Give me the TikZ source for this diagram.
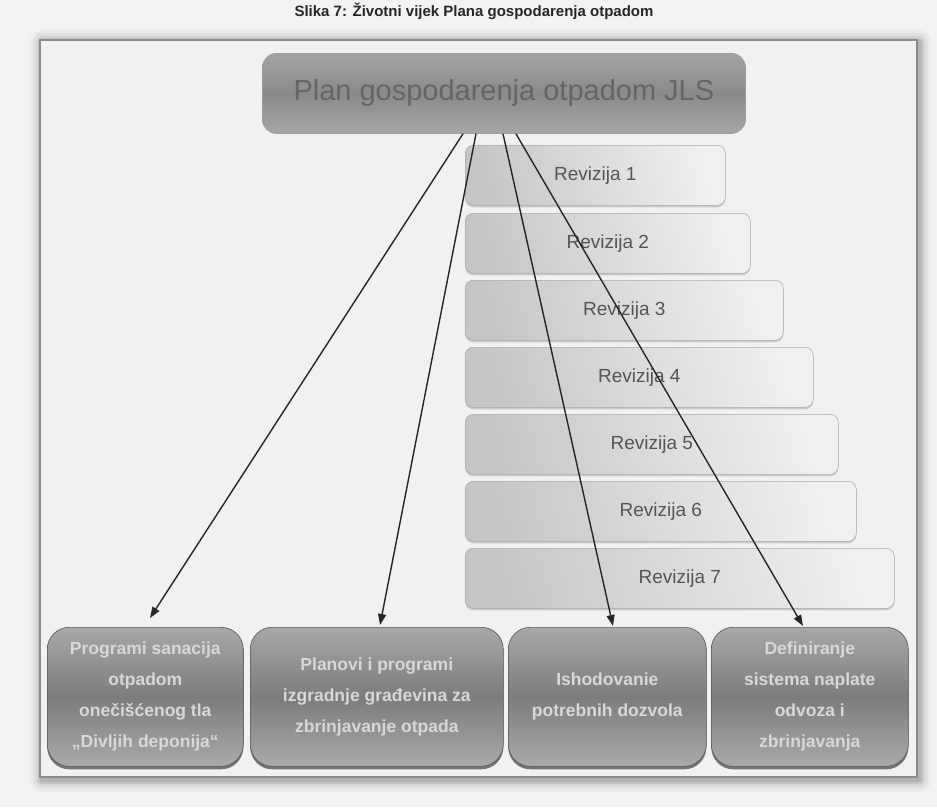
\documentclass[tikz,border=0pt]{standalone}
\usepackage{fontspec}
\setmainfont{Liberation Sans}
\usetikzlibrary{shadows,arrows.meta}
\definecolor{pagebg}{HTML}{F3F3F3}
\definecolor{framebg}{HTML}{F1F1F1}
\definecolor{framedraw}{HTML}{8C8C8C}
\definecolor{darktop}{HTML}{A8A8A8}
\definecolor{darkmid}{HTML}{7C7C7C}
\definecolor{darkbot}{HTML}{A0A0A0}
\definecolor{toptop}{HTML}{A4A4A4}
\definecolor{topmid}{HTML}{8A8A8A}
\definecolor{topbot}{HTML}{A6A6A6}
\definecolor{toptxt}{HTML}{656565}
\definecolor{revdark}{HTML}{C6C6C6}
\definecolor{revlight}{HTML}{F0F0F0}
\definecolor{revtxt}{HTML}{555555}
\definecolor{bottxt}{HTML}{D8D8D8}
\definecolor{arrcol}{HTML}{262626}
\tikzset{
  topbox/.style={draw=framedraw!85, line width=0.8pt, rounded corners=14pt,
    top color=toptop, bottom color=topbot, middle color=topmid,
    anchor=north west, inner sep=0pt, text=toptxt,
    font=\fontsize{29}{31}\selectfont},
  revbox/.style={draw=revdark!85!black, line width=0.5pt, rounded corners=8pt,
    left color=revdark, right color=revlight, shading angle=105,
    anchor=north west, inner sep=0pt, minimum height=60pt, text=revtxt,
    font=\fontsize{19}{21}\selectfont,
    drop shadow={shadow xshift=0pt, shadow yshift=-2pt, fill=black!35, opacity=.5}},
  botbox/.style={draw=darkmid!70!black, line width=0.6pt, rounded corners=22pt,
    top color=darktop, bottom color=darkbot!90, middle color=darkmid,
    anchor=north west, inner sep=0pt, minimum height=139pt, text=bottxt,
    align=center, font=\bfseries\fontsize{17.5}{31}\selectfont,
    drop shadow={shadow xshift=0pt, shadow yshift=-3pt, fill=black!75, opacity=.7}},
  arr/.style={draw=arrcol, line width=1.4pt, -{Triangle[length=11pt,width=8pt]}}
}
\begin{document}
\begin{tikzpicture}[x=1pt,y=-1pt]
\useasboundingbox (0,0) rectangle (937,807);
\clip (0,0) rectangle (937,807);
\fill[pagebg] (0,0) rectangle (937,807);
% caption
\node[anchor=base, font=\bfseries\fontsize{15}{17}\selectfont, text=black!85] (cap) at (474,16) {Slika 7: Životni vijek Plana gospodarenja otpadom};
% frame shadow
\foreach \d/\o in {12/0.03,9/0.04,6/0.05,4/0.07,2/0.09}{
  \fill[black, opacity=\o, rounded corners=\d pt] (40-\d+2,40-\d+2) rectangle (917+\d+2,777+\d+3);
}
\draw[framedraw, line width=1.6pt, fill=framebg] (40,40) rectangle (917,777);
% top box
\node[topbox, minimum width=483pt, minimum height=80pt] (top) at (262,53) {Plan gospodarenja otpadom JLS};
% revisions
\node[revbox, minimum width=260pt] (r1) at (465,145) {Revizija 1};
\node[revbox, minimum width=285pt] (r2) at (465,213) {Revizija 2};
\node[revbox, minimum width=318pt] (r3) at (465,280) {Revizija 3};
\node[revbox, minimum width=348pt] (r4) at (465,347) {Revizija 4};
\node[revbox, minimum width=373pt] (r5) at (465,414) {Revizija 5};
\node[revbox, minimum width=391pt] (r6) at (465,481) {Revizija 6};
\node[revbox, minimum width=429pt] (r7) at (465,548) {Revizija 7};
% bottom boxes
\node[botbox, minimum width=196pt] (b1) at (47,627) {Programi sanacija\\otpadom\\onečišćenog tla\\„Divljih deponija“};
\node[botbox, minimum width=253pt] (b2) at (250,627) {Planovi i programi\\izgradnje građevina za\\zbrinjavanje otpada};
\node[botbox, minimum width=198pt] (b3) at (508,627) {Ishodovanie\\potrebnih dozvola};
\node[botbox, minimum width=197pt] (b4) at (711,627) {Definiranje\\sistema naplate\\odvoza i\\zbrinjavanja};
% connectors
\coordinate (s1) at (463,133);
\coordinate (s2) at (476,133);
\coordinate (s3) at (503,133);
\coordinate (s4) at (516,133);
\coordinate (e1) at (150,618);
\coordinate (e2) at (380,625);
\coordinate (e3) at (613,626);
\coordinate (e4) at (803,626);
\draw[arr] (top.south -| s1) -- (e1);
\draw[arr] (top.south -| s2) -- (e2);
\draw[arr] (top.south -| s3) -- (e3);
\draw[arr] (top.south -| s4) -- (e4);
\end{tikzpicture}
\end{document}
